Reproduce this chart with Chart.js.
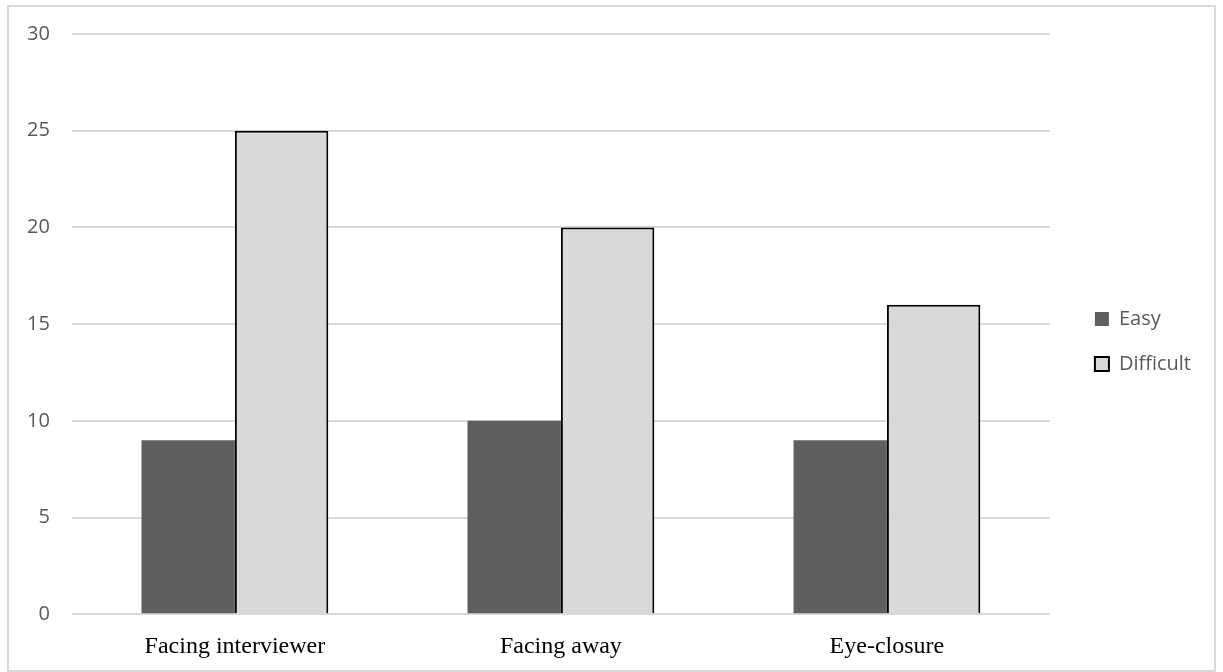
<!DOCTYPE html>
<html>
<head>
<meta charset="utf-8">
<script src="https://cdn.jsdelivr.net/npm/chart.js@4"></script>
<style>
  html, body { margin: 0; padding: 0; background: #fff; }
  #frame {
    position: absolute; left: 7px; top: 5px;
    width: 1205px; height: 663px;
    border: 2px solid #d9d9d9;
  }
  #chart { position: absolute; left: 0; top: 0; display: block; }
</style>
</head>
<body>
<div id="frame"></div>
<canvas id="chart" width="1223" height="672"></canvas>
<script>
// categories and series
var categories = ["Facing interviewer", "Facing away", "Eye-closure"];
var easy = [9, 10, 9];
var difficult = [25, 20, 16];
var yTicks = [0, 5, 10, 15, 20, 25, 30];

// nudge the legend a bit away from the plot, like the original
var legendShift = {
  id: "legendShift",
  afterLayout: function (chart) {
    var l = chart.legend;
    l.left += 20; l.right += 20;
    l.top -= 10; l.bottom -= 10;
  }
};

var ctx = document.getElementById("chart").getContext("2d");

var chart = new Chart(ctx, {
  type: "bar",
  data: {
    labels: categories,
    datasets: [
      {
        label: "Easy",
        data: easy,
        backgroundColor: "#5f5f5f",
        borderColor: "#5f5f5f",
        borderWidth: 0
      },
      {
        label: "Difficult",
        data: difficult,
        backgroundColor: "#d9d9d9",
        borderColor: "#000",
        borderWidth: 2
      }
    ]
  },
  plugins: [legendShift],
  options: {
    responsive: false,
    animation: false,
    layout: { padding: { left: 5, top: 32, right: 42, bottom: 1 } },
    datasets: {
      bar: { categoryPercentage: 0.573, barPercentage: 1 }
    },
    plugins: {
      tooltip: { enabled: false },
      legend: {
        position: "right",
        labels: {
          boxWidth: 14,
          boxHeight: 14,
          padding: 25,
          color: "#595959",
          font: { family: "Open Sans", size: 20 }
        }
      }
    },
    scales: {
      x: {
        grid: { display: false },
        border: { display: false },
        ticks: {
          color: "#000",
          padding: 10,
          font: { family: "Liberation Serif", size: 24 }
        }
      },
      y: {
        min: 0,
        max: 30,
        afterBuildTicks: function (axis) {
          axis.ticks = yTicks.map(function (v) { return { value: v }; });
        },
        grid: { color: "#d9d9d9", lineWidth: 2, drawTicks: false },
        border: { display: false },
        ticks: {
          color: "#595959",
          padding: 22,
          font: { family: "Open Sans", size: 20 }
        }
      }
    }
  }
});
</script>
</body>
</html>
